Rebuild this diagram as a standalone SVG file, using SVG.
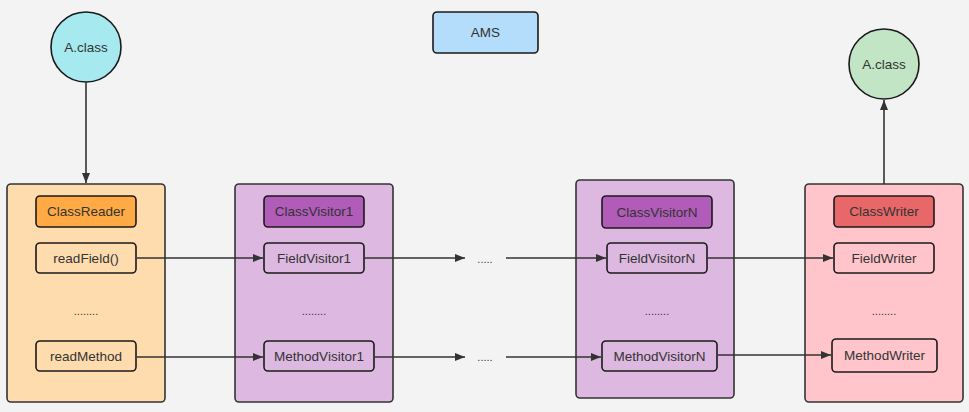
<svg xmlns="http://www.w3.org/2000/svg" width="969" height="412" viewBox="0 0 969 412">
<style>
text{font-family:"Liberation Sans",Arial,sans-serif;font-size:13.5px;fill:#333;text-anchor:middle;dominant-baseline:central}
.c{stroke:#333;stroke-width:1.6}
.b{stroke:#1a1a1a;stroke-width:1.6}
.l{stroke:#333;stroke-width:1.6;fill:none;marker-end:url(#a)}
.d{font-size:11px}
</style>
<defs>
<marker id="a" viewBox="0 0 10 8" refX="10" refY="4" markerWidth="10" markerHeight="8" markerUnits="userSpaceOnUse" orient="auto">
<path d="M0,0L10,4L0,8Z" fill="#333"/>
</marker>
</defs>
<rect width="969" height="412" fill="#f3f3f3"/>
<g id="ams"><rect x="433" y="12" width="105" height="41" rx="4" fill="#b3ddfa" class="b"/><text x="485.5" y="32.5">AMS</text></g>
<g id="input-class"><circle cx="86" cy="47" r="35" fill="#a6eaf0" class="b"/><text x="86" y="47">A.class</text></g>
<g id="output-class"><circle cx="884" cy="64" r="35" fill="#c2e5c5" class="b"/><text x="884" y="64">A.class</text></g>
<g id="classreader">
<rect x="7" y="184" width="158" height="218" rx="4" fill="#ffdcae" class="c"/>
<rect x="36" y="196" width="100" height="31" rx="4" fill="#ffaa45" class="b"/><text x="86" y="211.5">ClassReader</text>
<rect x="36" y="243" width="100" height="30" rx="4" fill="#ffdcae" class="b"/><text x="86" y="258">readField()</text>
<text x="86" y="311" class="d">........</text>
<rect x="36" y="341" width="100" height="30" rx="4" fill="#ffdcae" class="b"/><text x="86" y="356">readMethod</text>
</g>
<g id="classvisitor1">
<rect x="235" y="184" width="158" height="218" rx="4" fill="#ddb8e0" class="c"/>
<rect x="264" y="196" width="100" height="31" rx="4" fill="#b05cb8" class="b"/><text x="314" y="211.5">ClassVisitor1</text>
<rect x="264" y="243" width="100" height="30" rx="4" fill="#ddb8e0" class="b"/><text x="314" y="258">FieldVisitor1</text>
<text x="314" y="311" class="d">........</text>
<rect x="264" y="341" width="110" height="30" rx="4" fill="#ddb8e0" class="b"/><text x="319" y="356">MethodVisitor1</text>
</g>
<g id="gap-dots">
<text x="485" y="259" class="d">.....</text>
<text x="485" y="357" class="d">.....</text>
</g>
<g id="classvisitorn">
<rect x="576" y="180" width="158" height="218" rx="4" fill="#ddb8e0" class="c"/>
<rect x="602" y="196" width="110" height="32" rx="4" fill="#b05cb8" class="b"/><text x="657" y="212">ClassVisitorN</text>
<rect x="607" y="243" width="100" height="30" rx="4" fill="#ddb8e0" class="b"/><text x="657" y="258">FieldVisitorN</text>
<text x="657" y="311" class="d">........</text>
<rect x="602" y="341" width="115" height="30" rx="4" fill="#ddb8e0" class="b"/><text x="659.5" y="356">MethodVisitorN</text>
</g>
<g id="classwriter">
<rect x="805" y="184" width="158" height="218" rx="4" fill="#ffc5cb" class="c"/>
<rect x="834" y="196" width="100" height="31" rx="4" fill="#e8686a" class="b"/><text x="884" y="211.5">ClassWriter</text>
<rect x="834" y="243" width="100" height="30" rx="4" fill="#ffc5cb" class="b"/><text x="884" y="258">FieldWriter</text>
<text x="884" y="311" class="d">........</text>
<rect x="832" y="339" width="105" height="33" rx="4" fill="#ffc5cb" class="b"/><text x="884.5" y="355.5">MethodWriter</text>
</g>
<g id="connectors">
<line class="l" x1="86" y1="82" x2="86" y2="183"/>
<line class="l" x1="884" y1="184" x2="884" y2="100"/>
<line class="l" x1="137" y1="258" x2="263" y2="258"/>
<line class="l" x1="137" y1="357" x2="263" y2="357"/>
<line class="l" x1="364" y1="258" x2="465" y2="258"/>
<line class="l" x1="375" y1="357" x2="465" y2="357"/>
<line class="l" x1="506" y1="258" x2="606" y2="258"/>
<line class="l" x1="506" y1="357" x2="601" y2="357"/>
<line class="l" x1="707" y1="258" x2="833" y2="258"/>
<line class="l" x1="717" y1="355" x2="831" y2="355"/>
</g>
</svg>
